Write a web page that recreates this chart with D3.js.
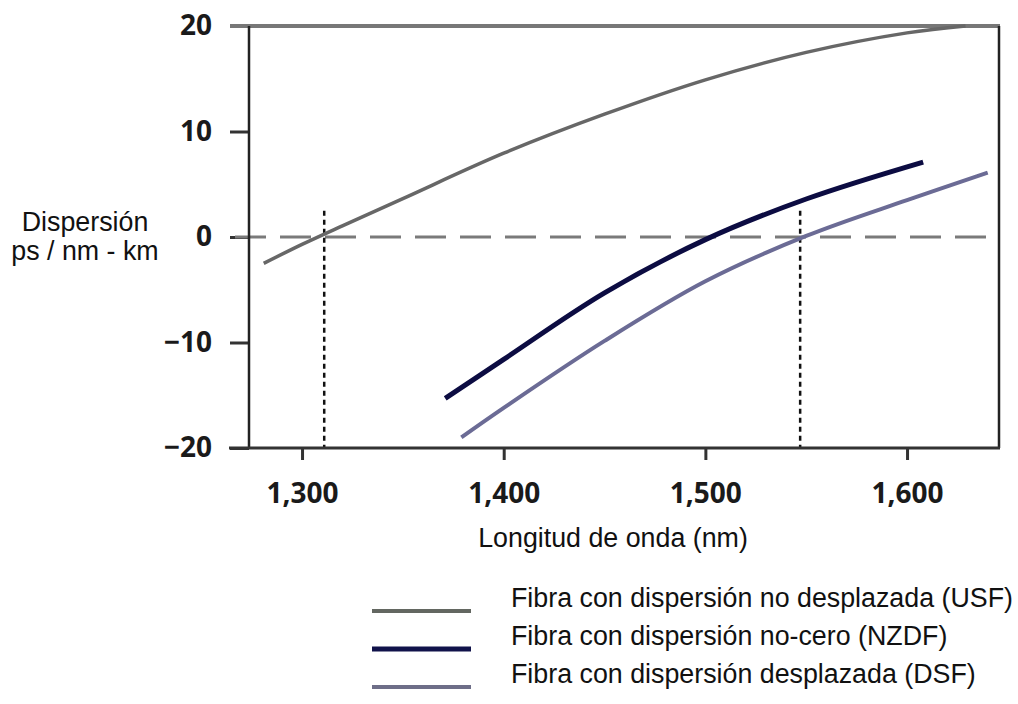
<!DOCTYPE html>
<html lang="es">
<head>
    <meta charset="UTF-8">
    <title>Dispersión cromática por tipo de fibra</title>
    <script src="https://d3js.org/d3.v7.min.js"></script>
    <style>
        body { margin: 0; background: #fff; }
        .label { font-family: "Liberation Sans", Arial, sans-serif; font-size: 26.8px; fill: #111; }
        .tick text { font-family: "Open Sans", sans-serif; font-weight: 700; font-size: 28px; fill: #1a1a1a; }
        .tick line { stroke: #333; stroke-width: 3; }
    </style>
</head>
<body>
    <script>
        // axis ticks
        const xTicks = [1300, 1400, 1500, 1600];
        const yTicks = [-20, -10, 0, 10, 20];

        // USF - fibra con dispersión no desplazada
        const usfLambda = [1281, 1300, 1320, 1350, 1400, 1450, 1500, 1550, 1600, 1629];
        const usfValues = [-2.5, -0.7, 1.06, 3.64, 7.94, 11.64, 14.9, 17.5, 19.35, 20];

        // NZDF - fibra con dispersión no-cero
        const nzdfLambda = [1371, 1400, 1450, 1500, 1550, 1608];
        const nzdfValues = [-15.3, -11.6, -5.3, -0.25, 3.6, 7.1];

        // DSF - fibra con dispersión desplazada
        const dsfLambda = [1379, 1400, 1450, 1500, 1550, 1600, 1640];
        const dsfValues = [-19.0, -16.2, -9.85, -4.2, 0.1, 3.5, 6.1];

        // zero dispersion wavelengths (dotted markers)
        const zeroLambdas = [1311, 1547];
        const markerTop = 2.5;

        const legendLabels = [
            "Fibra con dispersión no desplazada (USF)",
            "Fibra con dispersión no-cero (NZDF)",
            "Fibra con dispersión desplazada (DSF)"
        ];

        const series = [
            { lambda: usfLambda, values: usfValues, color: "#676767", width: 3.5, legendColor: "#636761", legendWidth: 4 },
            { lambda: nzdfLambda, values: nzdfValues, color: "#0c0c42", width: 5, legendColor: "#10124a", legendWidth: 5 },
            { lambda: dsfLambda, values: dsfValues, color: "#6b6b95", width: 4, legendColor: "#6e6e88", legendWidth: 4 }
        ];

        const width = 1018;
        const height = 704;
        const plot = { left: 249, right: 999, top: 26, bottom: 448 };

        const svg = d3.select("body")
            .append("svg")
            .attr("width", width)
            .attr("height", height);

        const x = d3.scaleLinear()
            .domain([1273.7, 1645.6])
            .range([plot.left, plot.right]);

        const y = d3.scaleLinear()
            .domain([-20, 20])
            .range([plot.bottom, plot.top]);

        // y axis (ticks only, frame drawn separately)
        svg.append("g")
            .attr("transform", `translate(${plot.left},0)`)
            .call(d3.axisLeft(y).tickValues(yTicks).tickSize(19).tickPadding(18))
            .call(g => g.select(".domain").remove());

        // x axis
        svg.append("g")
            .attr("transform", `translate(0,${plot.bottom})`)
            .call(d3.axisBottom(x).tickValues(xTicks).tickFormat(d3.format(",")).tickSize(12).tickPadding(23))
            .call(g => g.select(".domain").remove());

        // zero line (dashed)
        svg.append("line")
            .attr("x1", 235).attr("x2", plot.right)
            .attr("y1", y(0)).attr("y2", y(0))
            .attr("stroke", "#7a7a7a")
            .attr("stroke-width", 3)
            .attr("stroke-dasharray", "31,14");

        // dotted markers at zero dispersion
        svg.selectAll(".marker")
            .data(zeroLambdas)
            .enter()
            .append("line")
            .attr("class", "marker")
            .attr("x1", d => x(d)).attr("x2", d => x(d))
            .attr("y1", y(markerTop)).attr("y2", plot.bottom)
            .attr("stroke", "#111")
            .attr("stroke-width", 2.5)
            .attr("stroke-dasharray", "5,4");

        // frame
        svg.append("line") // top
            .attr("x1", 230).attr("x2", plot.right + 1)
            .attr("y1", plot.top).attr("y2", plot.top)
            .attr("stroke", "#777").attr("stroke-width", 4);
        svg.append("line") // left
            .attr("x1", plot.left).attr("x2", plot.left)
            .attr("y1", plot.top).attr("y2", plot.bottom)
            .attr("stroke", "#222").attr("stroke-width", 2.5);
        svg.append("line") // right
            .attr("x1", plot.right).attr("x2", plot.right)
            .attr("y1", plot.top).attr("y2", plot.bottom)
            .attr("stroke", "#222").attr("stroke-width", 2.5);
        svg.append("line") // bottom
            .attr("x1", 229).attr("x2", plot.right + 1)
            .attr("y1", plot.bottom).attr("y2", plot.bottom)
            .attr("stroke", "#333").attr("stroke-width", 3);

        // curves
        const line = d3.line()
            .x(d => x(d[0]))
            .y(d => y(d[1]))
            .curve(d3.curveCatmullRom.alpha(0.5));

        svg.selectAll(".curve")
            .data(series)
            .enter()
            .append("path")
            .attr("class", "curve")
            .attr("d", s => line(d3.zip(s.lambda, s.values)))
            .attr("fill", "none")
            .attr("stroke", s => s.color)
            .attr("stroke-width", s => s.width);

        // axis titles
        svg.append("text")
            .attr("class", "label")
            .attr("x", 613).attr("y", 547)
            .attr("text-anchor", "middle")
            .text("Longitud de onda (nm)");

        const yTitle = svg.append("text")
            .attr("class", "label")
            .attr("text-anchor", "middle");
        yTitle.append("tspan").attr("x", 85).attr("y", 231).text("Dispersión");
        yTitle.append("tspan").attr("x", 85).attr("y", 260).text("ps / nm - km");

        // legend
        const legend = svg.selectAll(".legend")
            .data(series)
            .enter()
            .append("g")
            .attr("class", "legend")
            .attr("transform", (d, i) => `translate(0,${611 + i * 38})`);

        legend.append("line")
            .attr("x1", 372).attr("x2", 471)
            .attr("stroke", d => d.legendColor)
            .attr("stroke-width", d => d.legendWidth);

        legend.append("text")
            .attr("class", "label")
            .attr("x", 511).attr("y", -4)
            .text((d, i) => legendLabels[i]);
    </script>
</body>
</html>
